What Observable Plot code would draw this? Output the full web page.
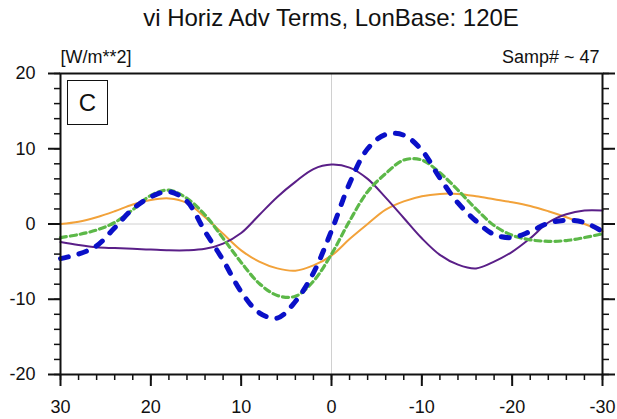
<!DOCTYPE html>
<html>
<head>
<meta charset="utf-8">
<script src="https://cdn.jsdelivr.net/npm/d3@7"></script>
<script src="https://cdn.jsdelivr.net/npm/@observablehq/plot@0.6"></script>
<style>
  body { margin: 0; background: #fff; font-family: "Liberation Sans", Arial, sans-serif; }
  #wrap { position: relative; width: 617px; height: 419px; overflow: hidden; background: #fff; }
  #title { height: 40px; box-sizing: border-box; padding-top: 5px; width: 662px; text-align: center;
           font-size: 24px; line-height: 26px; color: #111; white-space: nowrap; }
  #panel { position: absolute; left: 67px; top: 80px; width: 41px; height: 45px; box-sizing: border-box;
           border: 1.5px solid #111; background: #fff; display: flex; align-items: center; justify-content: center;
           font-size: 24px; color: #111; }
</style>
</head>
<body>
<div id="wrap">
  <div id="title"></div>
  <div id="chart"></div>
  <div id="panel"></div>
</div>
<script>
// ---- data ----
const titleText = "vi Horiz Adv Terms, LonBase: 120E";
const unitsLabel = "[W/m**2]";
const sampLabel = "Samp# ~ 47";
const panelLabel = "C";

const lon = [30, 28, 26, 24, 22, 20, 18, 16, 14, 12, 10, 8, 6, 4, 2, 0,
             -2, -4, -6, -8, -10, -12, -14, -16, -18, -20, -22, -24, -26, -28, -30];
const orangeVals = [0.0, 0.3, 0.9, 1.7, 2.6, 3.2, 3.4, 2.8, 0.9, -1.3, -3.5, -5.0, -5.9, -6.2, -5.5, -4.2,
                    -2.0, 0.0, 1.9, 3.0, 3.7, 4.0, 4.0, 3.7, 3.3, 2.9, 2.4, 1.7, 0.9, 0.0, -1.0];
const purpleVals = [-2.4, -2.8, -3.1, -3.2, -3.3, -3.4, -3.5, -3.5, -3.3, -2.6, -1.2, 1.2, 3.6, 5.6, 7.3, 7.9,
                    7.5, 6.0, 3.5, 0.8, -1.9, -4.1, -5.4, -5.9, -5.0, -3.7, -1.9, 0.2, 1.3, 1.8, 1.8];
const greenVals  = [-1.8, -1.4, -0.8, 0.2, 1.9, 3.8, 4.5, 3.4, 1.2, -1.9, -5.1, -7.9, -9.5, -9.6, -7.6, -4.0,
                    0.4, 4.3, 6.7, 8.5, 8.5, 6.8, 4.5, 2.0, -0.2, -1.5, -2.1, -2.3, -2.2, -1.8, -1.3];
const blueVals   = [-4.6, -4.0, -2.9, -0.5, 2.0, 3.6, 4.3, 3.0, -1.0, -4.8, -9.0, -11.8, -12.5, -10.3, -6.5, -0.9,
                    5.4, 10.0, 11.9, 11.8, 9.8, 6.1, 2.8, 0.4, -1.4, -1.8, -1.0, 0.1, 0.5, 0.2, -1.0];

const xTicks = [30, 20, 10, 0, -10, -20, -30];
const xMinorTicks = d3.range(-30, 31, 2);
const yTicks = [-20, -10, 0, 10, 20];
const yMinorTicks = d3.range(-20, 21, 2);
const refLines = [0];

// ---- build ----
document.getElementById("title").textContent = titleText;
document.getElementById("panel").textContent = panelLabel;

const rows = (vals) => lon.map((x, i) => ({x, y: vals[i]}));
const font = "Liberation Sans, Arial, sans-serif";

const chart = Plot.plot({
  width: 617,
  height: 379,
  marginTop: 33,
  marginBottom: 45,
  marginLeft: 60,
  marginRight: 15,
  style: {fontFamily: font, fontSize: "18px", background: "white", color: "#111", overflow: "visible"},
  x: {domain: [30, -30], label: null},
  y: {domain: [-20, 20], label: null},
  marks: [
    Plot.ruleX(refLines, {x: d => d, stroke: "#d0d0d0", strokeWidth: 1}),
    Plot.ruleY(refLines, {y: d => d, stroke: "#d0d0d0", strokeWidth: 1}),
    Plot.line(rows(orangeVals), {x: "x", y: "y", curve: "catmull-rom", stroke: "#f2a23a", strokeWidth: 2}),
    Plot.line(rows(purpleVals), {x: "x", y: "y", curve: "catmull-rom", stroke: "#5a1f88", strokeWidth: 2}),
    Plot.line(rows(greenVals), {x: "x", y: "y", curve: "catmull-rom", stroke: "#5cb848", strokeWidth: 3.2,
                                strokeDasharray: "6,4"}),
    Plot.line(rows(blueVals), {x: "x", y: "y", curve: "catmull-rom", stroke: "#0a10c8", strokeWidth: 5,
                               strokeDasharray: "8,11", strokeLinecap: "round"}),
    Plot.frame({stroke: "#111", strokeWidth: 2}),
    Plot.axisX(xMinorTicks, {anchor: "bottom", tickSize: 6, strokeWidth: 1.5, fill: "none", label: null}),
    Plot.axisX(xTicks, {anchor: "bottom", tickSize: 12, tickPadding: 14, strokeWidth: 2, fontSize: 18,
                        tickFormat: d => String(d), label: null}),
    Plot.axisY(yMinorTicks, {anchor: "left", tickSize: 6, strokeWidth: 1.5, fill: "none", label: null}),
    Plot.axisY(yTicks, {anchor: "left", tickSize: 12, tickPadding: 13, strokeWidth: 2, fontSize: 18,
                        tickFormat: d => String(d), label: null}),
    Plot.axisY(yMinorTicks, {anchor: "right", tickSize: 6, strokeWidth: 1.5, fill: "none", label: null}),
    Plot.axisY(yTicks, {anchor: "right", tickSize: 12, strokeWidth: 2, fill: "none", label: null}),
    Plot.text([unitsLabel], {text: d => d, frameAnchor: "top-left", textAnchor: "start", lineAnchor: "bottom",
                             dy: -11, fontSize: 18}),
    Plot.text([sampLabel], {text: d => d, frameAnchor: "top-right", textAnchor: "end", lineAnchor: "bottom",
                            dy: -11, dx: -3, fontSize: 18})
  ]
});
document.getElementById("chart").appendChild(chart);
</script>
</body>
</html>
